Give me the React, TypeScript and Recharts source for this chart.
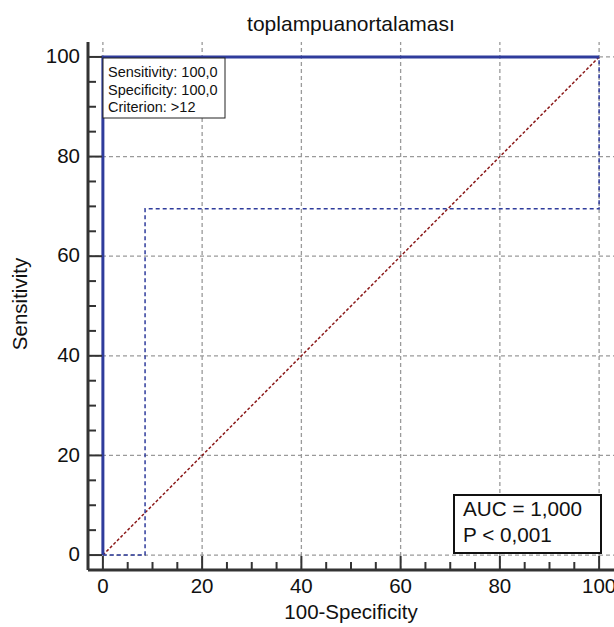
import React from "react";
import { LineChart, Line, XAxis, YAxis, ReferenceLine } from "recharts";

// ROC curve: 100-Specificity (x) vs Sensitivity (y)
const ROC_POINTS = [
  { x: 0, y: 0 },
  { x: 0, y: 100 },
  { x: 100, y: 100 },
];
// 95% confidence bounds
const CI_UPPER = [
  { x: 0, y: 0 },
  { x: 0, y: 100 },
  { x: 100, y: 100 },
];
const CI_LOWER = [
  { x: 0, y: 0 },
  { x: 8.5, y: 0 },
  { x: 8.5, y: 69.5 },
  { x: 100, y: 69.5 },
  { x: 100, y: 100 },
];
const DIAGONAL = [
  { x: 0, y: 0 },
  { x: 100, y: 100 },
];

const MAJOR_TICKS = [0, 20, 40, 60, 80, 100];
const ALL_TICKS = [0, 5, 10, 15, 20, 25, 30, 35, 40, 45, 50, 55, 60, 65, 70, 75, 80, 85, 90, 95, 100];

const TITLE = "toplampuanortalaması";
const X_LABEL = "100-Specificity";
const Y_LABEL = "Sensitivity";
const CRITERION_LINES = ["Sensitivity: 100,0", "Specificity: 100,0", "Criterion: >12"];
const AUC_LINES = ["AUC = 1,000", "P < 0,001"];

const W = 614;
const H = 627;
const FONT = "'Liberation Sans', Arial, sans-serif";
const AXIS = "#333";
const BLUE = "#2f3c9c";
const GRID = "#9a9a9a";

const isMajor = (v: number) => v % 20 === 0;

function XTick(props: any) {
  const { x, y, payload } = props;
  const major = isMajor(payload.value);
  return (
    <g>
      <line x1={x} x2={x} y1={y} y2={y - (major ? 14 : 8)} stroke={AXIS} strokeWidth={2} />
      {major && (
        <text x={x} y={y + 23} textAnchor="middle" fontSize={20.5} fontFamily={FONT} fill="#111">
          {payload.value}
        </text>
      )}
    </g>
  );
}

function YTick(props: any) {
  const { x, y, payload } = props;
  const major = isMajor(payload.value);
  return (
    <g>
      <line x1={x} x2={x + (major ? 14 : 8)} y1={y} y2={y} stroke={AXIS} strokeWidth={2} />
      {major && (
        <text x={x - 8} y={y} dy="0.3em" textAnchor="end" fontSize={20.5} fontFamily={FONT} fill="#111">
          {payload.value}
        </text>
      )}
    </g>
  );
}

export default function App() {
  return (
    <div style={{ position: "absolute", left: 0, top: 0, width: W, height: H, background: "#fff" }}>
      <LineChart width={W} height={H} margin={{ top: 42, right: 0, bottom: 0, left: 0 }}>
        <XAxis
          type="number"
          dataKey="x"
          domain={[-3, 103]}
          allowDataOverflow
          ticks={ALL_TICKS}
          interval={0}
          height={57}
          tickSize={0}
          tickMargin={0}
          tickLine={false}
          axisLine={{ stroke: AXIS, strokeWidth: 3 }}
          tick={<XTick />}
        />
        <YAxis
          type="number"
          dataKey="y"
          domain={[-3, 103]}
          allowDataOverflow
          ticks={ALL_TICKS}
          interval={0}
          width={88}
          tickSize={0}
          tickMargin={0}
          tickLine={false}
          axisLine={{ stroke: AXIS, strokeWidth: 3 }}
          tick={<YTick />}
        />
        {MAJOR_TICKS.map((v) => (
          <ReferenceLine key={"gx" + v} x={v} stroke={GRID} strokeDasharray="4 3" strokeWidth={1.3} />
        ))}
        {MAJOR_TICKS.map((v) => (
          <ReferenceLine key={"gy" + v} y={v} stroke={GRID} strokeDasharray="4 3" strokeWidth={1.3} />
        ))}
        <Line
          data={DIAGONAL}
          dataKey="y"
          type="linear"
          stroke="#8b1a1a"
          strokeWidth={1.5}
          strokeDasharray="3 2"
          dot={false}
          activeDot={false}
          isAnimationActive={false}
        />
        <Line
          data={CI_LOWER}
          dataKey="y"
          type="linear"
          stroke={BLUE}
          strokeWidth={1.5}
          strokeDasharray="4 3"
          dot={false}
          activeDot={false}
          isAnimationActive={false}
        />
        <Line
          data={CI_UPPER}
          dataKey="y"
          type="linear"
          stroke={BLUE}
          strokeWidth={1.5}
          strokeDasharray="4 3"
          dot={false}
          activeDot={false}
          isAnimationActive={false}
        />
        <Line
          data={ROC_POINTS}
          dataKey="y"
          type="linear"
          stroke={BLUE}
          strokeWidth={3}
          dot={false}
          activeDot={false}
          isAnimationActive={false}
        />
      </LineChart>

      {/* titles and info boxes on top of the chart */}
      <svg
        width={W}
        height={H}
        style={{ position: "absolute", left: 0, top: 0, pointerEvents: "none" }}
        fontFamily={FONT}
      >
        <text x={351} y={31} textAnchor="middle" fontSize={21} fill="#111">
          {TITLE}
        </text>
        <text x={351} y={619} textAnchor="middle" fontSize={20.5} fill="#111">
          {X_LABEL}
        </text>
        <text x={27} y={304} textAnchor="middle" fontSize={20.5} fill="#111" transform="rotate(-90 27 304)">
          {Y_LABEL}
        </text>

        <rect x={103} y={58} width={122} height={60} fill="#fff" stroke="#222" strokeWidth={1} />
        {CRITERION_LINES.map((t, i) => (
          <text key={t} x={108} y={77 + i * 17.5} fontSize={14.5} fill="#111">
            {t}
          </text>
        ))}

        <rect x={454} y={495} width={147} height={58} fill="#fff" stroke="#111" strokeWidth={2} />
        {AUC_LINES.map((t, i) => (
          <text key={t} x={463} y={516 + i * 26} fontSize={20.7} fill="#111">
            {t}
          </text>
        ))}
      </svg>
    </div>
  );
}
